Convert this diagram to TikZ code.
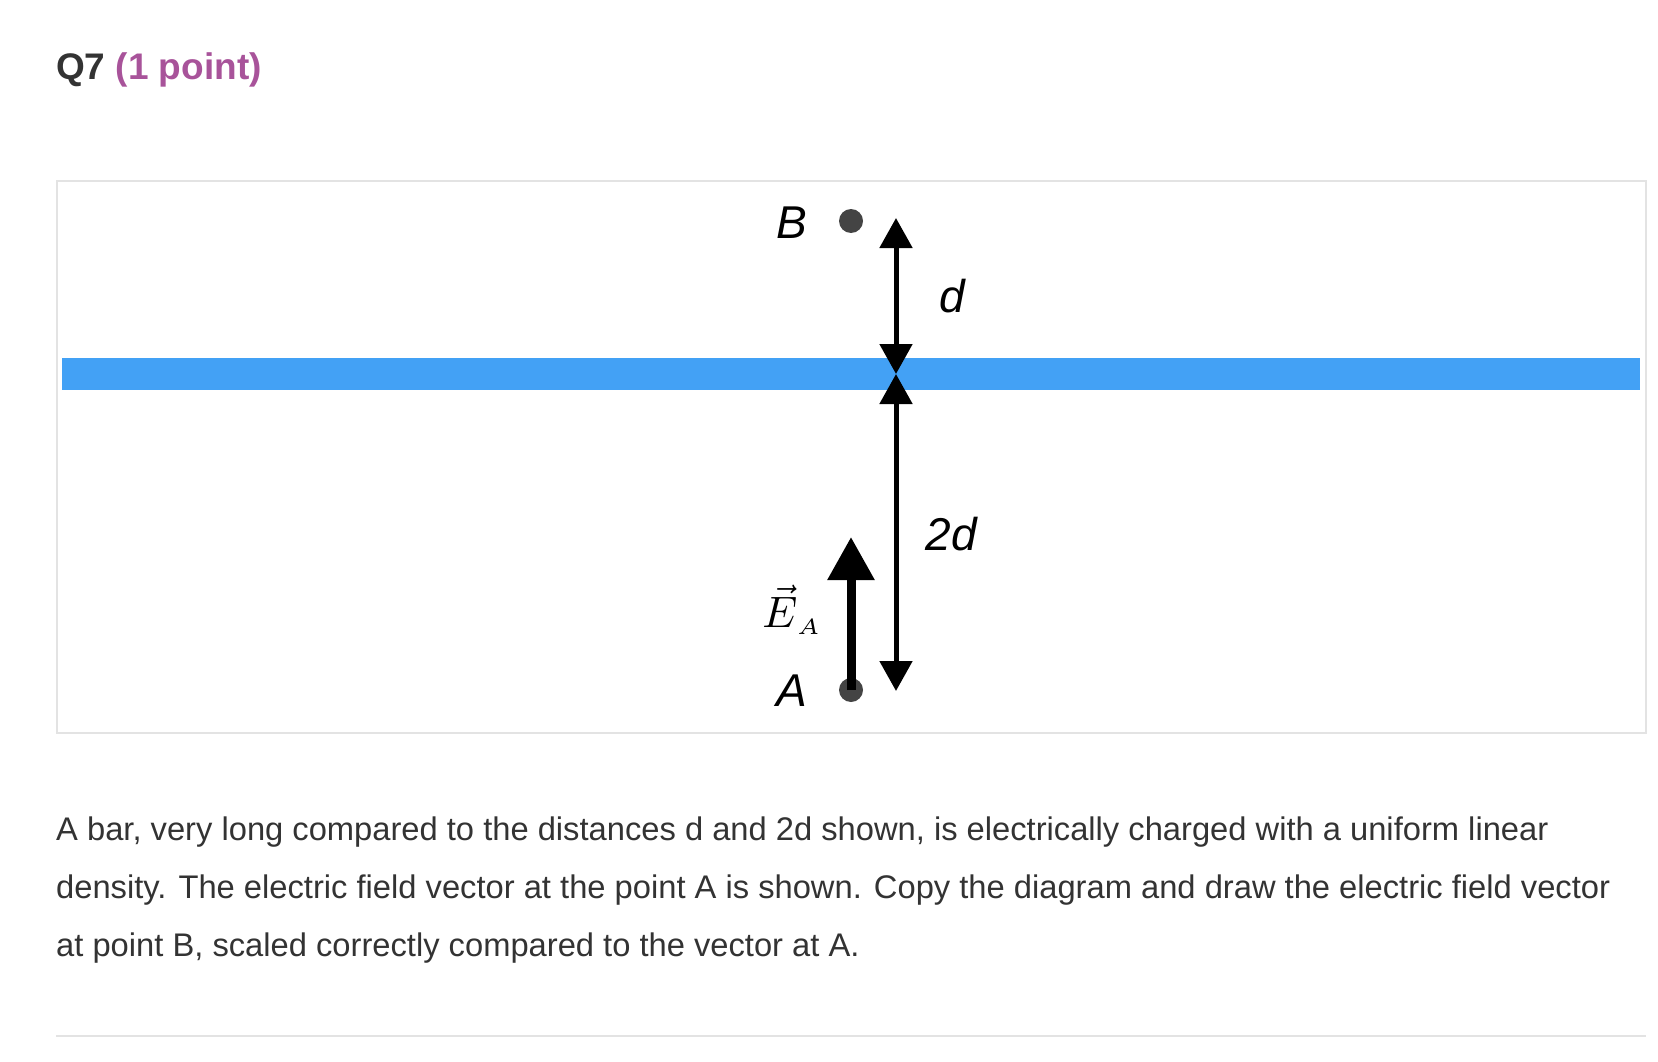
\documentclass[tikz,border=0pt]{standalone}
\usepackage{fontspec}
\setmainfont{Liberation Sans}
\usetikzlibrary{arrows.meta}
\definecolor{barblue}{HTML}{43A1F5}
\definecolor{txt}{HTML}{333333}
\definecolor{pur}{HTML}{A8539A}
\definecolor{frame}{HTML}{E3E3E3}
\definecolor{dotc}{HTML}{444444}
\tikzset{
  dimarrow/.style={line width=5pt,{Triangle[width=32pt,length=30pt]}-{Triangle[width=32pt,length=30pt]}},
  lbl/.style={font=\fontsize{46}{50}\selectfont\itshape, text=black},
  para/.style={anchor=base west, font=\fontsize{32.7}{36}\selectfont, text=txt, inner sep=0},
  dotn/.style={circle, fill=dotc, minimum size=24pt, inner sep=0}
}
\begin{document}
\begin{tikzpicture}[x=1pt,y=-1pt]
\useasboundingbox (0,0) rectangle (1658,1062);
\node[anchor=base west, inner sep=0, font=\fontsize{37}{40}\selectfont\bfseries, text=txt] (title) at (56,80) {Q7 \textcolor{pur}{(1 point)}};
\draw[frame, line width=1.5pt] (57,181) rectangle (1646,733);
\fill[barblue] (62,358) rectangle (1640,390);
\coordinate (top) at (896,218);
\coordinate (mid) at (896,374);
\coordinate (bot) at (896,691);
\draw[dimarrow] (top) -- (mid);
\draw[dimarrow] (mid) -- (bot);
\node[dotn] (B) at (851,221) {};
\node[dotn] (A) at (851,690) {};
\coordinate (Etip) at (851,537);
\draw[line width=9pt, -{Triangle[width=45pt,length=43pt]}] (A.center) -- (Etip);
\node[lbl] (Bl) at (792,223) {B};
\node[lbl] (Al) at (792,691) {A};
\node[lbl] (dl) at (952,296) {d};
\node[lbl] (dl2) at (951,534) {2d};
\node[scale=4.4, inner sep=0, text=black] (El) at (792,610) {$\vec{E}_{\mkern1mu\scriptscriptstyle A}$};
\node[para] (p1) at (56,840) {A bar, very long compared to the distances d and 2d shown, is electrically charged with a uniform linear};
\node[para] (p2) at (56,898) {density. The electric field vector at the point A is shown. Copy the diagram and draw the electric field vector};
\node[para] (p3) at (56,956) {at point B, scaled correctly compared to the vector at A.};
\draw[frame, line width=2pt] (56,1036) -- (1646,1036);
\end{tikzpicture}
\end{document}
